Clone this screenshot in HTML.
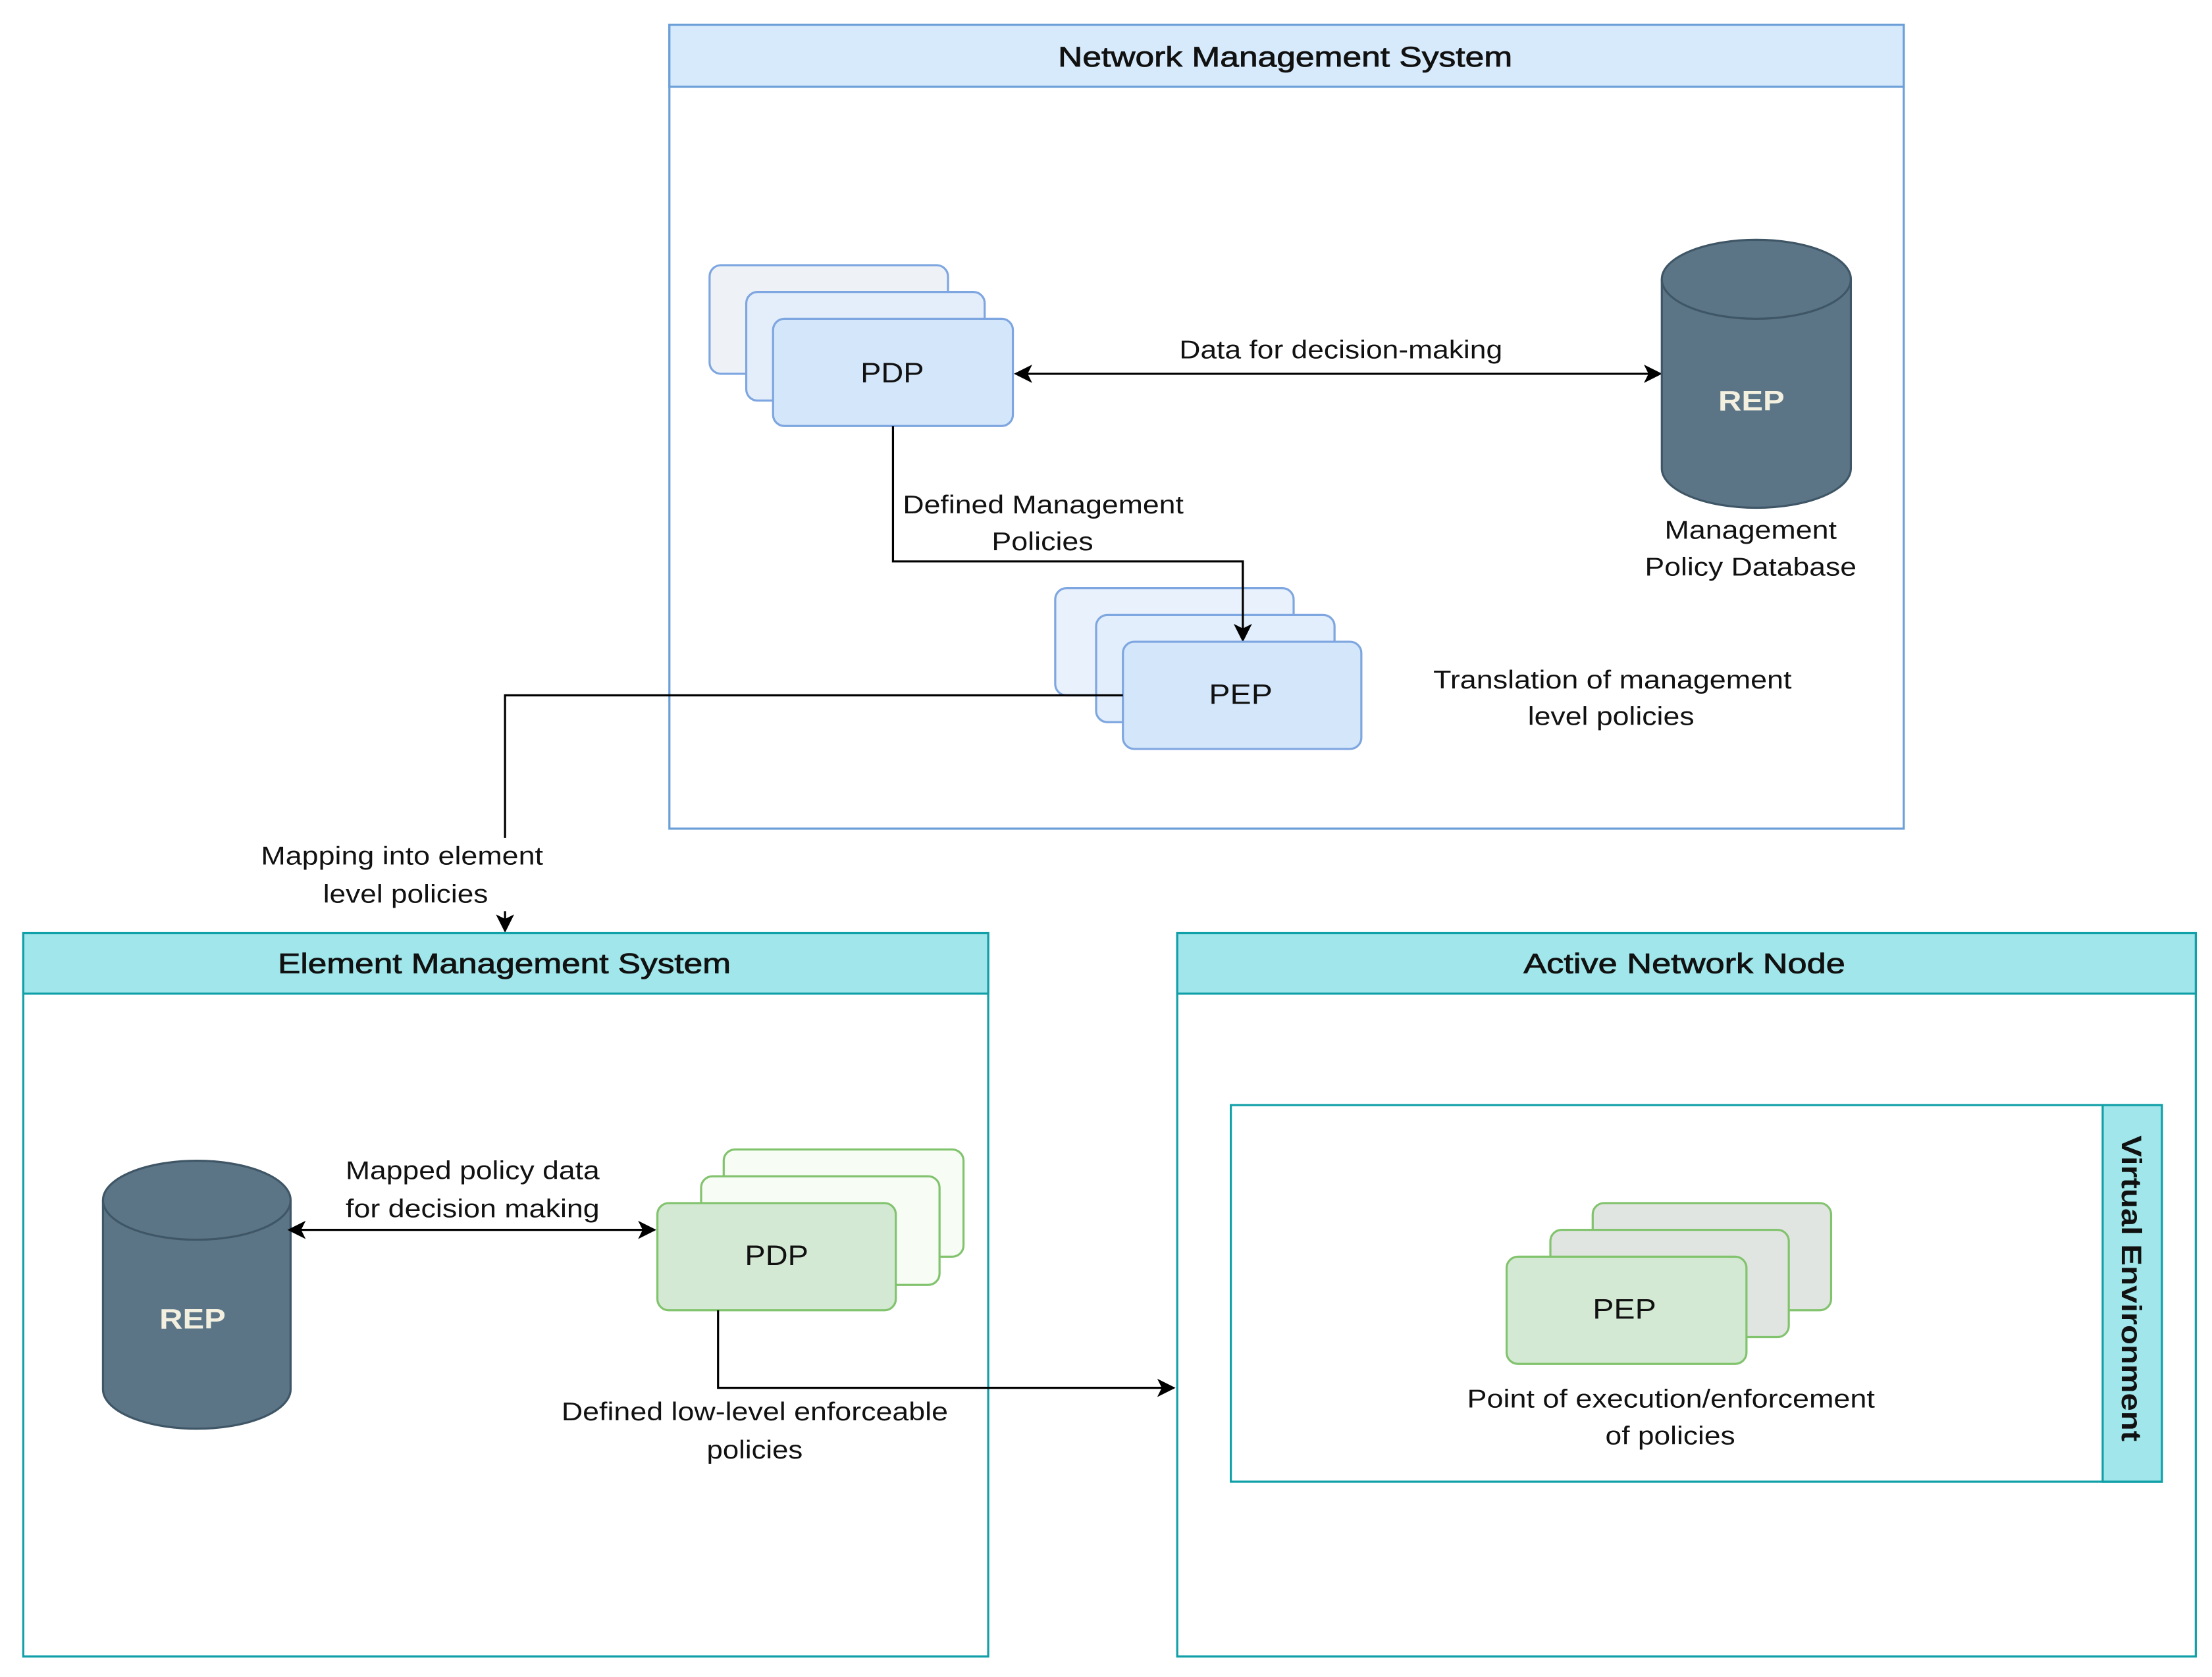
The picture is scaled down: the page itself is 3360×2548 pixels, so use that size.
<!DOCTYPE html>
<html><head><meta charset="utf-8"><style>
html,body{margin:0;padding:0;background:#fff;}
svg{display:block;}
text{font-family:"Liberation Sans",Arial,sans-serif;}
</style></head><body>
<svg width="3360" height="2548" viewBox="0 0 1568 1189" xmlns="http://www.w3.org/2000/svg">
<defs>
<marker id="ar2" viewBox="0 0 10 10" refX="9" refY="5" markerWidth="13" markerHeight="13" orient="auto-start-reverse" markerUnits="userSpaceOnUse">
<path d="M0,0 L10,5 L0,10 L2.5,5 Z" fill="#000"/></marker>
</defs>
<rect width="1568" height="1189" fill="#fff"/>

<!-- NMS -->
<rect x="474.5" y="17.5" width="875" height="570" fill="#fff" stroke="#6c9fd8" stroke-width="1.5"/>
<rect x="474.5" y="17.5" width="875" height="44" fill="#d6eafc" stroke="#6c9fd8" stroke-width="1.5"/>
<text x="750" y="47" font-size="20" textLength="322" lengthAdjust="spacingAndGlyphs" fill="#111" stroke="#111" stroke-width="0.4">Network Management System</text>

<!-- PDP stack blue -->
<rect x="503" y="188" width="169" height="77" rx="8" fill="#eef2f7" stroke="#7ea6e0" stroke-width="1.5"/>
<rect x="529" y="207" width="169" height="77" rx="8" fill="#e4eefb" stroke="#7ea6e0" stroke-width="1.5"/>
<rect x="548" y="226" width="170" height="76" rx="8" fill="#d4e6fa" stroke="#7ea6e0" stroke-width="1.5"/>
<text x="610" y="271" font-size="20" textLength="45" lengthAdjust="spacingAndGlyphs" fill="#111">PDP</text>

<line x1="720" y1="265" x2="1177" y2="265" stroke="#000" stroke-width="1.5" marker-start="url(#ar2)" marker-end="url(#ar2)"/>
<text x="836" y="254" font-size="18" textLength="229" lengthAdjust="spacingAndGlyphs" fill="#111">Data for decision-making</text>

<!-- REP cylinder -->
<path d="M1178,198 A67,28 0 0 1 1312,198 L1312,332 A67,28 0 0 1 1178,332 Z" fill="#5b7587" stroke="#3f5666" stroke-width="1.5"/>
<path d="M1178,198 A67,28 0 0 0 1312,198" fill="none" stroke="#3f5666" stroke-width="1.5"/>
<text x="1218" y="291" font-size="20" font-weight="bold" textLength="47" lengthAdjust="spacingAndGlyphs" fill="#f3f0e0">REP</text>
<text x="1180" y="382" font-size="18" textLength="122" lengthAdjust="spacingAndGlyphs" fill="#111">Management</text>
<text x="1166" y="408" font-size="18" textLength="150" lengthAdjust="spacingAndGlyphs" fill="#111">Policy Database</text>

<polyline points="633,302 633,398 881,398 881,454" fill="none" stroke="#000" stroke-width="1.5" marker-end="url(#ar2)"/>
<rect x="638" y="345" width="204" height="46" fill="#fff"/>
<text x="640" y="364" font-size="18" textLength="199" lengthAdjust="spacingAndGlyphs" fill="#111">Defined Management</text>
<text x="703" y="390" font-size="18" textLength="72" lengthAdjust="spacingAndGlyphs" fill="#111">Policies</text>

<!-- PEP stack blue -->
<rect x="748" y="417" width="169" height="76" rx="8" fill="#e8f1fc" stroke="#7ea6e0" stroke-width="1.5"/>
<rect x="777" y="436" width="169" height="76" rx="8" fill="#e2eefb" stroke="#7ea6e0" stroke-width="1.5"/>
<line x1="881" y1="398" x2="881" y2="454" stroke="#000" stroke-width="1.5" marker-end="url(#ar2)"/>
<rect x="796" y="455" width="169" height="76" rx="8" fill="#d4e6fa" stroke="#7ea6e0" stroke-width="1.5"/>
<text x="857" y="499" font-size="20" textLength="45" lengthAdjust="spacingAndGlyphs" fill="#111">PEP</text>
<text x="1016" y="488" font-size="18" textLength="254" lengthAdjust="spacingAndGlyphs" fill="#111">Translation of management</text>
<text x="1083" y="514" font-size="18" textLength="118" lengthAdjust="spacingAndGlyphs" fill="#111">level policies</text>

<polyline points="796,493 358,493 358,660" fill="none" stroke="#000" stroke-width="1.5" marker-end="url(#ar2)"/>
<rect x="183" y="594" width="204" height="52" fill="#fff"/>
<text x="185" y="613" font-size="18" textLength="200" lengthAdjust="spacingAndGlyphs" fill="#111">Mapping into element</text>
<text x="229" y="640" font-size="18" textLength="117" lengthAdjust="spacingAndGlyphs" fill="#111">level policies</text>

<!-- EMS -->
<rect x="16.5" y="661.5" width="684" height="513" fill="#fff" stroke="#12a0a8" stroke-width="1.5"/>
<rect x="16.5" y="661.5" width="684" height="43" fill="#a0e6ea" stroke="#12a0a8" stroke-width="1.5"/>
<text x="197" y="690" font-size="20" textLength="321" lengthAdjust="spacingAndGlyphs" fill="#111" stroke="#111" stroke-width="0.4">Element Management System</text>

<path d="M73,851 A66.5,28 0 0 1 206,851 L206,985 A66.5,28 0 0 1 73,985 Z" fill="#5b7587" stroke="#3f5666" stroke-width="1.5"/>
<path d="M73,851 A66.5,28 0 0 0 206,851" fill="none" stroke="#3f5666" stroke-width="1.5"/>
<text x="113" y="942" font-size="20" font-weight="bold" textLength="47" lengthAdjust="spacingAndGlyphs" fill="#f3f0e0">REP</text>

<line x1="205" y1="872" x2="464" y2="872" stroke="#000" stroke-width="1.5" marker-start="url(#ar2)" marker-end="url(#ar2)"/>
<text x="245" y="836" font-size="18" textLength="180" lengthAdjust="spacingAndGlyphs" fill="#111">Mapped policy data</text>
<text x="245" y="863" font-size="18" textLength="180" lengthAdjust="spacingAndGlyphs" fill="#111">for decision making</text>

<rect x="513" y="815" width="170" height="76" rx="8" fill="#f7fcf5" stroke="#82c36e" stroke-width="1.5"/>
<rect x="497" y="834" width="169" height="77" rx="8" fill="#f7fcf5" stroke="#82c36e" stroke-width="1.5"/>
<rect x="466" y="853" width="169" height="76" rx="8" fill="#d3e9d3" stroke="#82c36e" stroke-width="1.5"/>
<text x="528" y="897" font-size="20" textLength="45" lengthAdjust="spacingAndGlyphs" fill="#111">PDP</text>

<polyline points="509,929 509,984 832,984" fill="none" stroke="#000" stroke-width="1.5" marker-end="url(#ar2)"/>
<text x="398" y="1007" font-size="18" textLength="274" lengthAdjust="spacingAndGlyphs" fill="#111">Defined low-level enforceable</text>
<text x="501" y="1034" font-size="18" textLength="68" lengthAdjust="spacingAndGlyphs" fill="#111">policies</text>

<!-- ANN -->
<rect x="834.5" y="661.5" width="722" height="513" fill="#fff" stroke="#12a0a8" stroke-width="1.5"/>
<rect x="834.5" y="661.5" width="722" height="43" fill="#a0e6ea" stroke="#12a0a8" stroke-width="1.5"/>
<text x="1080" y="690" font-size="20" textLength="228" lengthAdjust="spacingAndGlyphs" fill="#111" stroke="#111" stroke-width="0.4">Active Network Node</text>

<rect x="872.5" y="783.5" width="660" height="267" fill="#fff" stroke="#12a0a8" stroke-width="1.5"/>
<rect x="1490.5" y="783.5" width="42" height="267" fill="#a0e6ea" stroke="#12a0a8" stroke-width="1.5"/>
<text transform="translate(1504,805) rotate(90)" font-size="20" font-weight="bold" textLength="217" lengthAdjust="spacingAndGlyphs" fill="#111">Virtual Environment</text>

<rect x="1129" y="853" width="169" height="76" rx="8" fill="#e1e5e1" stroke="#82c36e" stroke-width="1.5"/>
<rect x="1099" y="872" width="169" height="76" rx="8" fill="#e1e5e1" stroke="#82c36e" stroke-width="1.5"/>
<rect x="1068" y="891" width="170" height="76" rx="8" fill="#d3e9d3" stroke="#82c36e" stroke-width="1.5"/>
<text x="1129" y="935" font-size="20" textLength="45" lengthAdjust="spacingAndGlyphs" fill="#111">PEP</text>
<text x="1040" y="998" font-size="18" textLength="289" lengthAdjust="spacingAndGlyphs" fill="#111">Point of execution/enforcement</text>
<text x="1138" y="1024" font-size="18" textLength="92" lengthAdjust="spacingAndGlyphs" fill="#111">of policies</text>
</svg>
</body></html>
